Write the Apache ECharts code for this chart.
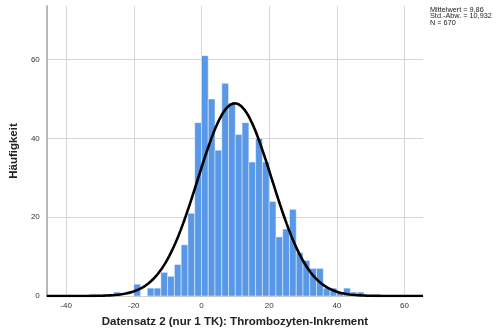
<!DOCTYPE html>
<html>
<head>
<meta charset="utf-8">
<script src="https://cdn.jsdelivr.net/npm/echarts@6/dist/echarts.min.js"></script>
<style>
  html, body { margin: 0; padding: 0; background: #fff; }
  #chart { width: 500px; height: 333px; }
</style>
</head>
<body>
<div id="chart"></div>
<script>
// Histogram bins (lower edge of each 2-unit bin) and their frequencies
const binStarts = [-26, -24, -22, -20, -18, -16, -14, -12, -10, -8, -6, -4, -2,
                   0, 2, 4, 6, 8, 10, 12, 14, 16, 18, 20, 22, 24, 26, 28,
                   30, 32, 34, 36, 38, 40, 42, 44, 46];
const counts = [1, 0, 0, 3, 0, 2, 2, 6, 5, 8, 13, 21, 44,
                61, 50, 37, 54, 49, 41, 44, 34, 40, 34, 24, 15, 17, 22, 11,
                9, 7, 7, 2, 2, 1, 2, 1, 1];
const binWidth = 2;

// Summary statistics of the sample
const meanValue = 9.86;
const stdDev = 10.932;
const nTotal = 670;
const statsLines = ['Mittelwert = 9,86', 'Std.-Abw. = 10,932', 'N = 670'];

// Axis ticks
const xTicks = [-40, -20, 0, 20, 40, 60];
const yTicks = [0, 20, 40, 60];
const xRange = [-45.7, 65.45];
const yMax = 73.6;

const xTitle = 'Datensatz 2 (nur 1 TK): Thrombozyten-Inkrement';
const yTitle = 'Häufigkeit';

const barData = binStarts.map((s, i) => [s, s + binWidth, counts[i]]);

// Fitted normal curve scaled to counts per bin
const curve = [];
const steps = 400;
for (let k = 0; k <= steps; k++) {
  const x = xRange[0] + (xRange[1] - xRange[0]) * k / steps;
  const z = (x - meanValue) / stdDev;
  const y = nTotal * binWidth / (stdDev * Math.sqrt(2 * Math.PI)) * Math.exp(-0.5 * z * z);
  curve.push([x, y]);
}

const chart = echarts.init(document.getElementById('chart'), null, { renderer: 'canvas' });
const font = 'Liberation Sans, Arial, sans-serif';

chart.setOption({
  animation: false,
  backgroundColor: '#ffffff',
  grid: { left: 42, right: 77, top: 6, bottom: 33 },
  xAxis: {
    type: 'value',
    min: xRange[0],
    max: xRange[1],
    name: xTitle,
    nameLocation: 'middle',
    nameGap: 20,
    nameTextStyle: { fontFamily: font, fontSize: 11.5, fontWeight: 'bold', color: '#222' },
    axisLine: { show: true, onZero: false, lineStyle: { color: '#b8b8b8', width: 1 } },
    axisTick: { show: false, customValues: xTicks },
    axisLabel: { customValues: xTicks, fontFamily: font, fontSize: 8, color: '#333', margin: 6 },
    splitLine: { show: true, lineStyle: { color: '#d6d6d6', width: 1 } }
  },
  yAxis: {
    type: 'value',
    min: 0,
    max: yMax,
    name: yTitle,
    nameLocation: 'middle',
    nameGap: 23,
    nameRotate: 90,
    nameTextStyle: { fontFamily: font, fontSize: 11.5, fontWeight: 'bold', color: '#222' },
    axisLine: { show: true, onZero: false, lineStyle: { color: '#b8b8b8', width: 2 } },
    axisTick: { show: false, customValues: yTicks },
    axisLabel: { customValues: yTicks, fontFamily: font, fontSize: 8, color: '#333', margin: 7 },
    splitLine: { show: true, lineStyle: { color: '#d6d6d6', width: 1 } }
  },
  graphic: [{
    type: 'text',
    left: 430,
    top: 6,
    style: {
      text: statsLines.join('\n'),
      font: '7.3px ' + font,
      lineHeight: 6.5,
      fill: '#222'
    }
  }],
  series: [
    {
      type: 'custom',
      z: 2,
      renderItem: function (params, api) {
        const p0 = api.coord([api.value(0), 0]);
        const p1 = api.coord([api.value(1), api.value(2)]);
        return {
          type: 'rect',
          shape: { x: p0[0], y: p1[1], width: p1[0] - p0[0], height: p0[1] - p1[1] },
          style: { fill: '#5898e6', stroke: 'rgba(255,255,255,0.45)', lineWidth: 1 }
        };
      },
      encode: { x: [0, 1], y: 2 },
      data: barData
    },
    {
      type: 'line',
      z: 3,
      data: curve,
      showSymbol: false,
      symbol: 'none',
      clip: true,
      lineStyle: { color: '#000', width: 2.6 }
    }
  ]
});
</script>
</body>
</html>
